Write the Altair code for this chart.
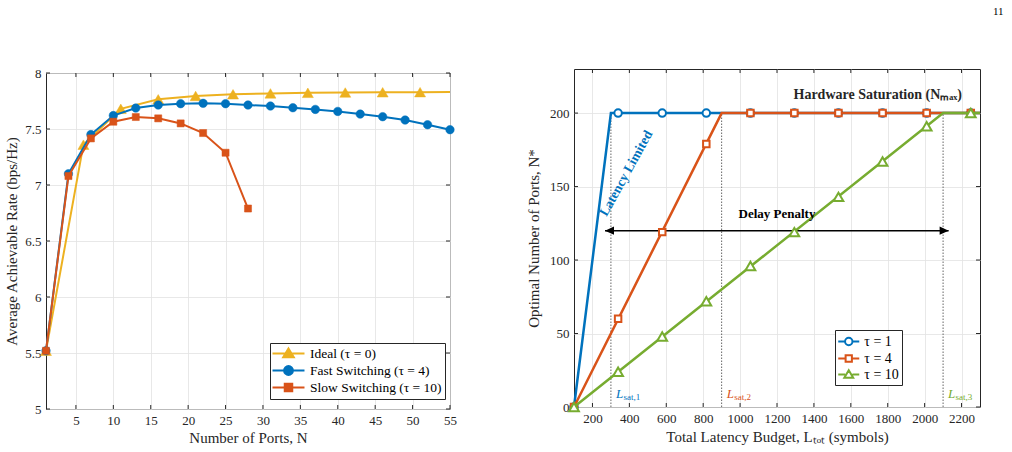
import altair as alt
import pandas as pd

SERIF = "Liberation Serif"
INK = "#262626"
GRID = "#e2e2e2"
BLUE, ORANGE, YELLOW, GREEN = "#0072BD", "#D95319", "#EDB120", "#77AC30"

# ---------------- left panel: achievable rate vs. number of ports ----------------
ideal_n = [1, 6, 11, 16, 21, 26, 31, 36, 41, 46, 51, 55]
ideal_rate = [5.52, 7.36, 7.68, 7.765, 7.795, 7.81, 7.818, 7.823, 7.826, 7.828, 7.829, 7.83]
ideal_marked = [True] * 11 + [False]

fast_n = [1, 4, 7, 10, 13, 16, 19, 22, 25, 28, 31, 34, 37, 40, 43, 46, 49, 52, 55]
fast_rate = [5.52, 7.10, 7.45, 7.62, 7.687, 7.714, 7.726, 7.729, 7.726, 7.714,
             7.705, 7.69, 7.675, 7.657, 7.633, 7.61, 7.58, 7.538, 7.494]

slow_n = [1, 4, 7, 10, 13, 16, 19, 22, 25, 28]
slow_rate = [5.52, 7.08, 7.416, 7.565, 7.607, 7.595, 7.55, 7.464, 7.288, 6.79]

rate_names = ["Ideal (τ = 0)", "Fast Switching (τ = 4)", "Slow Switching (τ = 10)"]
rate_x_ticks = [5, 10, 15, 20, 25, 30, 35, 40, 45, 50, 55]
rate_y_ticks = [5, 5.5, 6, 6.5, 7, 7.5, 8]

# ---------------- right panel: optimal ports vs. latency budget ----------------
budget_marks = [100, 339, 578, 817, 1056, 1294, 1533, 1772, 2011, 2250]
ports_tau1 = [0, 200, 200, 200, 200, 200, 200, 200, 200, 200]
ports_tau4 = [0, 60, 119, 179, 200, 200, 200, 200, 200, 200]
ports_tau10 = [0, 24, 48, 72, 96, 119, 143, 167, 191, 200]

# polyline vertices: linear growth up to the saturation budget, flat afterwards
knee_budget_tau1 = [100, 300, 2300]
knee_budget_tau4 = [100, 900, 2300]
knee_budget_tau10 = [100, 2100, 2300]
knee_ports = [0, 200, 200]

sat_budgets = [300, 900, 2100]
sat_ports = 200
sat_labels = ["sat,1", "sat,2", "sat,3"]
sat_label_ports = 6

tau_names = ["τ = 1", "τ = 4", "τ = 10"]
budget_x_ticks = [200, 400, 600, 800, 1000, 1200, 1400, 1600, 1800, 2000, 2200]
ports_y_ticks = [0, 50, 100, 150, 200]

arrow_budget = [268, 2130]
arrow_ports = 120

LW, LH = 404, 336
RW, RH = 406, 338


def axis(values, title, title_pad, fmt):
    return alt.Axis(values=values, title=title, grid=True, ticks=False, domain=False,
                    labelFlush=False, labelOverlap=False, labelPadding=5,
                    titlePadding=title_pad, format=fmt)


def inward_ticks(xenc, yenc, xvals, yvals, xf, yf, w, h, tick=4):
    """Short tick marks pointing into the plot on all four sides."""
    dx = pd.DataFrame({xf: xvals})
    dy = pd.DataFrame({yf: yvals})
    base = dict(color=INK, strokeWidth=1)
    return [
        alt.Chart(dx).mark_rule(**base).encode(x=xenc, y=alt.value(h), y2=alt.value(h - tick)),
        alt.Chart(dx).mark_rule(**base).encode(x=xenc, y=alt.value(0), y2=alt.value(tick)),
        alt.Chart(dy).mark_rule(**base).encode(y=yenc, x=alt.value(0), x2=alt.value(tick)),
        alt.Chart(dy).mark_rule(**base).encode(y=yenc, x=alt.value(w - tick), x2=alt.value(w)),
    ]


def key_paths(kinds, half, r, open_marker):
    """Legend glyphs: a line stub with the series marker in the middle."""
    out = []
    for k in kinds:
        if open_marker:
            stub = f"M{-half},0H{-r}M{r},0H{half}"
        else:
            stub = f"M{-half},0H{half}"
        if k == "circle":
            m = f"M{r},0A{r},{r} 0 1,1 {-r},0A{r},{r} 0 1,1 {r},0Z"
        elif k == "square":
            s = round(0.85 * r, 3)
            m = f"M{-s},{-s}H{s}V{s}H{-s}Z"
        else:
            m = f"M0,{-1.15 * r:.3f}L{1.2 * r:.3f},{0.85 * r:.3f}H{-1.2 * r:.3f}Z"
        out.append(stub + m)
    return out


# ---------------- build left chart ----------------
LX = alt.X("N:Q", scale=alt.Scale(domain=[1, 55], nice=False, zero=False),
           axis=axis(rate_x_ticks, "Number of Ports, N", 3, "d"))
LY = alt.Y("rate:Q", scale=alt.Scale(domain=[5, 8], nice=False, zero=False),
           axis=axis(rate_y_ticks, "Average Achievable Rate (bps/Hz)", 5, "~g"))

ideal = pd.DataFrame({"N": ideal_n, "rate": ideal_rate, "marked": ideal_marked})
fast = pd.DataFrame({"N": fast_n, "rate": fast_rate})
slow = pd.DataFrame({"N": slow_n, "rate": slow_rate})

left_layers = inward_ticks(LX, LY, rate_x_ticks, rate_y_ticks, "N", "rate", LW, LH)
for df, color, shape, size, flt in [
    (ideal, YELLOW, "triangle-up", 120, "datum.marked"),
    (fast, BLUE, "circle", 72, None),
    (slow, ORANGE, "square", 50, None),
]:
    left_layers.append(alt.Chart(df).mark_line(color=color, strokeWidth=2).encode(x=LX, y=LY))
    pts = alt.Chart(df).mark_point(shape=shape, filled=True, color=color, size=size, opacity=1,
                                   stroke=color, strokeWidth=0.5).encode(x=LX, y=LY)
    if flt:
        pts = pts.transform_filter(flt)
    left_layers.append(pts)

left_legend = alt.Legend(title=None, orient="none", legendX=224, legendY=274,
                         symbolSize=169, symbolStrokeWidth=2, symbolOffset=8,
                         labelFont=SERIF, labelFontSize=13.5, labelColor="black",
                         strokeColor=INK, fillColor="white", padding=3, rowPadding=0,
                         labelOffset=14, cornerRadius=0, labelLimit=0)
left_key = pd.DataFrame({"rate_series": rate_names})
left_layers.append(
    alt.Chart(left_key).mark_point(filled=True, opacity=1).encode(
        shape=alt.Shape("rate_series:N", scale=alt.Scale(domain=rate_names,
                        range=key_paths(["triangle", "circle", "square"], 2.46, 0.68, False)),
                        legend=left_legend),
        fill=alt.Fill("rate_series:N", scale=alt.Scale(domain=rate_names, range=[YELLOW, BLUE, ORANGE]),
                      legend=left_legend),
        stroke=alt.Stroke("rate_series:N", scale=alt.Scale(domain=rate_names, range=[YELLOW, BLUE, ORANGE]),
                          legend=left_legend),
    ).transform_filter("false")
)
left = alt.layer(*left_layers).properties(width=LW, height=LH)

# a thin empty strip above the left panel sets its vertical offset
strip = alt.Chart(pd.DataFrame({"s": [0]})).mark_point(opacity=0).properties(
    width=LW, height=4, view=alt.ViewBackground(stroke=None))
left_col = alt.vconcat(strip, left, spacing=0, bounds="flush")

# ---------------- build right chart ----------------
RX = alt.X("L:Q", scale=alt.Scale(domain=[100, 2300], nice=False, zero=False),
           axis=axis(budget_x_ticks, "Total Latency Budget, Lₜₒₜ (symbols)", 4, "d"))
RY = alt.Y("P:Q", scale=alt.Scale(domain=[0, 230], nice=False, zero=False),
           axis=axis(ports_y_ticks, "Optimal Number of Ports, N*", 8, "d"))

right_layers = inward_ticks(RX, RY, budget_x_ticks, ports_y_ticks, "L", "P", RW, RH)

sat = pd.DataFrame({"L": sat_budgets, "P": [0] * 3, "P2": [sat_ports] * 3,
                    "sub": sat_labels, "Pl": [sat_label_ports] * 3, "c": [BLUE, ORANGE, GREEN]})
right_layers.append(alt.Chart(sat).mark_rule(color="#555555", strokeWidth=0.9, strokeDash=[1.5, 1.5])
                    .encode(x=RX, y=RY, y2="P2:Q"))

arrow = pd.DataFrame({"L": arrow_budget, "P": [arrow_ports] * 2})
right_layers.append(alt.Chart(arrow).mark_line(color="black", strokeWidth=1.5).encode(x=RX, y=RY))
for i, head in enumerate(["M0,0L1,-0.45L1,0.45Z", "M0,0L-1,-0.45L-1,0.45Z"]):
    right_layers.append(alt.Chart(arrow.iloc[[i]]).mark_point(
        shape=head, filled=True, color="black", size=324, opacity=1).encode(x=RX, y=RY))

for knees, ports, color, shape, size in [
    (knee_budget_tau1, ports_tau1, BLUE, "circle", 56),
    (knee_budget_tau4, ports_tau4, ORANGE, "square", 42),
    (knee_budget_tau10, ports_tau10, GREEN, "triangle-up", 95),
]:
    ln = pd.DataFrame({"L": knees, "P": knee_ports})
    mk = pd.DataFrame({"L": budget_marks, "P": ports})
    right_layers.append(alt.Chart(ln).mark_line(color=color, strokeWidth=2.5).encode(x=RX, y=RY))
    right_layers.append(alt.Chart(mk).mark_point(shape=shape, filled=False, fill="white", color=color,
                                                 size=size, strokeWidth=2, opacity=1).encode(x=RX, y=RY))

# saturation labels: italic L with a small subscript
right_layers.append(alt.Chart(sat).mark_text(font=SERIF, fontStyle="italic", fontSize=13,
                                             align="left", baseline="alphabetic", dx=5).encode(
    x=RX, y=alt.Y("Pl:Q"), text=alt.value("L"),
    color=alt.Color("c:N", scale=None)))
right_layers.append(alt.Chart(sat).mark_text(font=SERIF, fontSize=9,
                                             align="left", baseline="alphabetic", dx=12.5, dy=2).encode(
    x=RX, y=alt.Y("Pl:Q"), text="sub:N",
    color=alt.Color("c:N", scale=None)))

notes = pd.DataFrame({
    "L": [1746, 1200, 383],
    "P": [212.6, 131, 159],
    "txt": ["Hardware Saturation (Nₘₐₓ)", "Delay Penalty", "Latency Limited"],
    "c": [INK, "black", BLUE],
    "ang": [0, 0, 299],
    "fs": [14, 13, 13.5],
})
for i in range(3):
    right_layers.append(alt.Chart(notes.iloc[[i]]).mark_text(
        font=SERIF, fontWeight="bold", fontSize=float(notes.fs[i]), angle=float(notes.ang[i]),
        align="center", baseline="middle", color=notes.c[i]).encode(x=RX, y=RY, text="txt:N"))

right_legend = alt.Legend(title=None, orient="none", legendX=261, legendY=261,
                          symbolSize=210, symbolStrokeWidth=2, symbolOffset=2.25,
                          labelFont=SERIF, labelFontSize=14, labelColor="black",
                          strokeColor=INK, fillColor="white", padding=3, rowPadding=0,
                          labelOffset=7, cornerRadius=0, labelLimit=0)
right_key = pd.DataFrame({"tau_series": tau_names})
right_layers.append(
    alt.Chart(right_key).mark_point(opacity=1).encode(
        shape=alt.Shape("tau_series:N", scale=alt.Scale(domain=tau_names,
                        range=key_paths(["circle", "square", "triangle"], 1.45, 0.51, True)),
                        legend=right_legend),
        fill=alt.Fill("tau_series:N", scale=alt.Scale(domain=tau_names, range=["white"] * 3),
                      legend=right_legend),
        stroke=alt.Stroke("tau_series:N", scale=alt.Scale(domain=tau_names, range=[BLUE, ORANGE, GREEN]),
                          legend=right_legend),
    ).transform_filter("false")
)
right = alt.layer(*right_layers).properties(width=RW, height=RH)

chart = alt.hconcat(left_col, right, spacing=69).resolve_scale(
    shape="independent", fill="independent", stroke="independent"
).properties(
    padding={"left": 4, "top": 5, "right": 0, "bottom": 0},
    title=alt.TitleParams("11", anchor="end", fontSize=11, font=SERIF, fontWeight="normal",
                          color="black", dx=18, offset=50),
).configure_view(stroke=INK, strokeWidth=1).configure_axis(
    labelFont=SERIF, titleFont=SERIF, labelFontSize=13, titleFontSize=15,
    titleFontWeight="normal", labelColor=INK, titleColor=INK, gridColor=GRID, gridWidth=0.8,
)

chart.save("out.html", embed_options={"renderer": "svg", "actions": False})
